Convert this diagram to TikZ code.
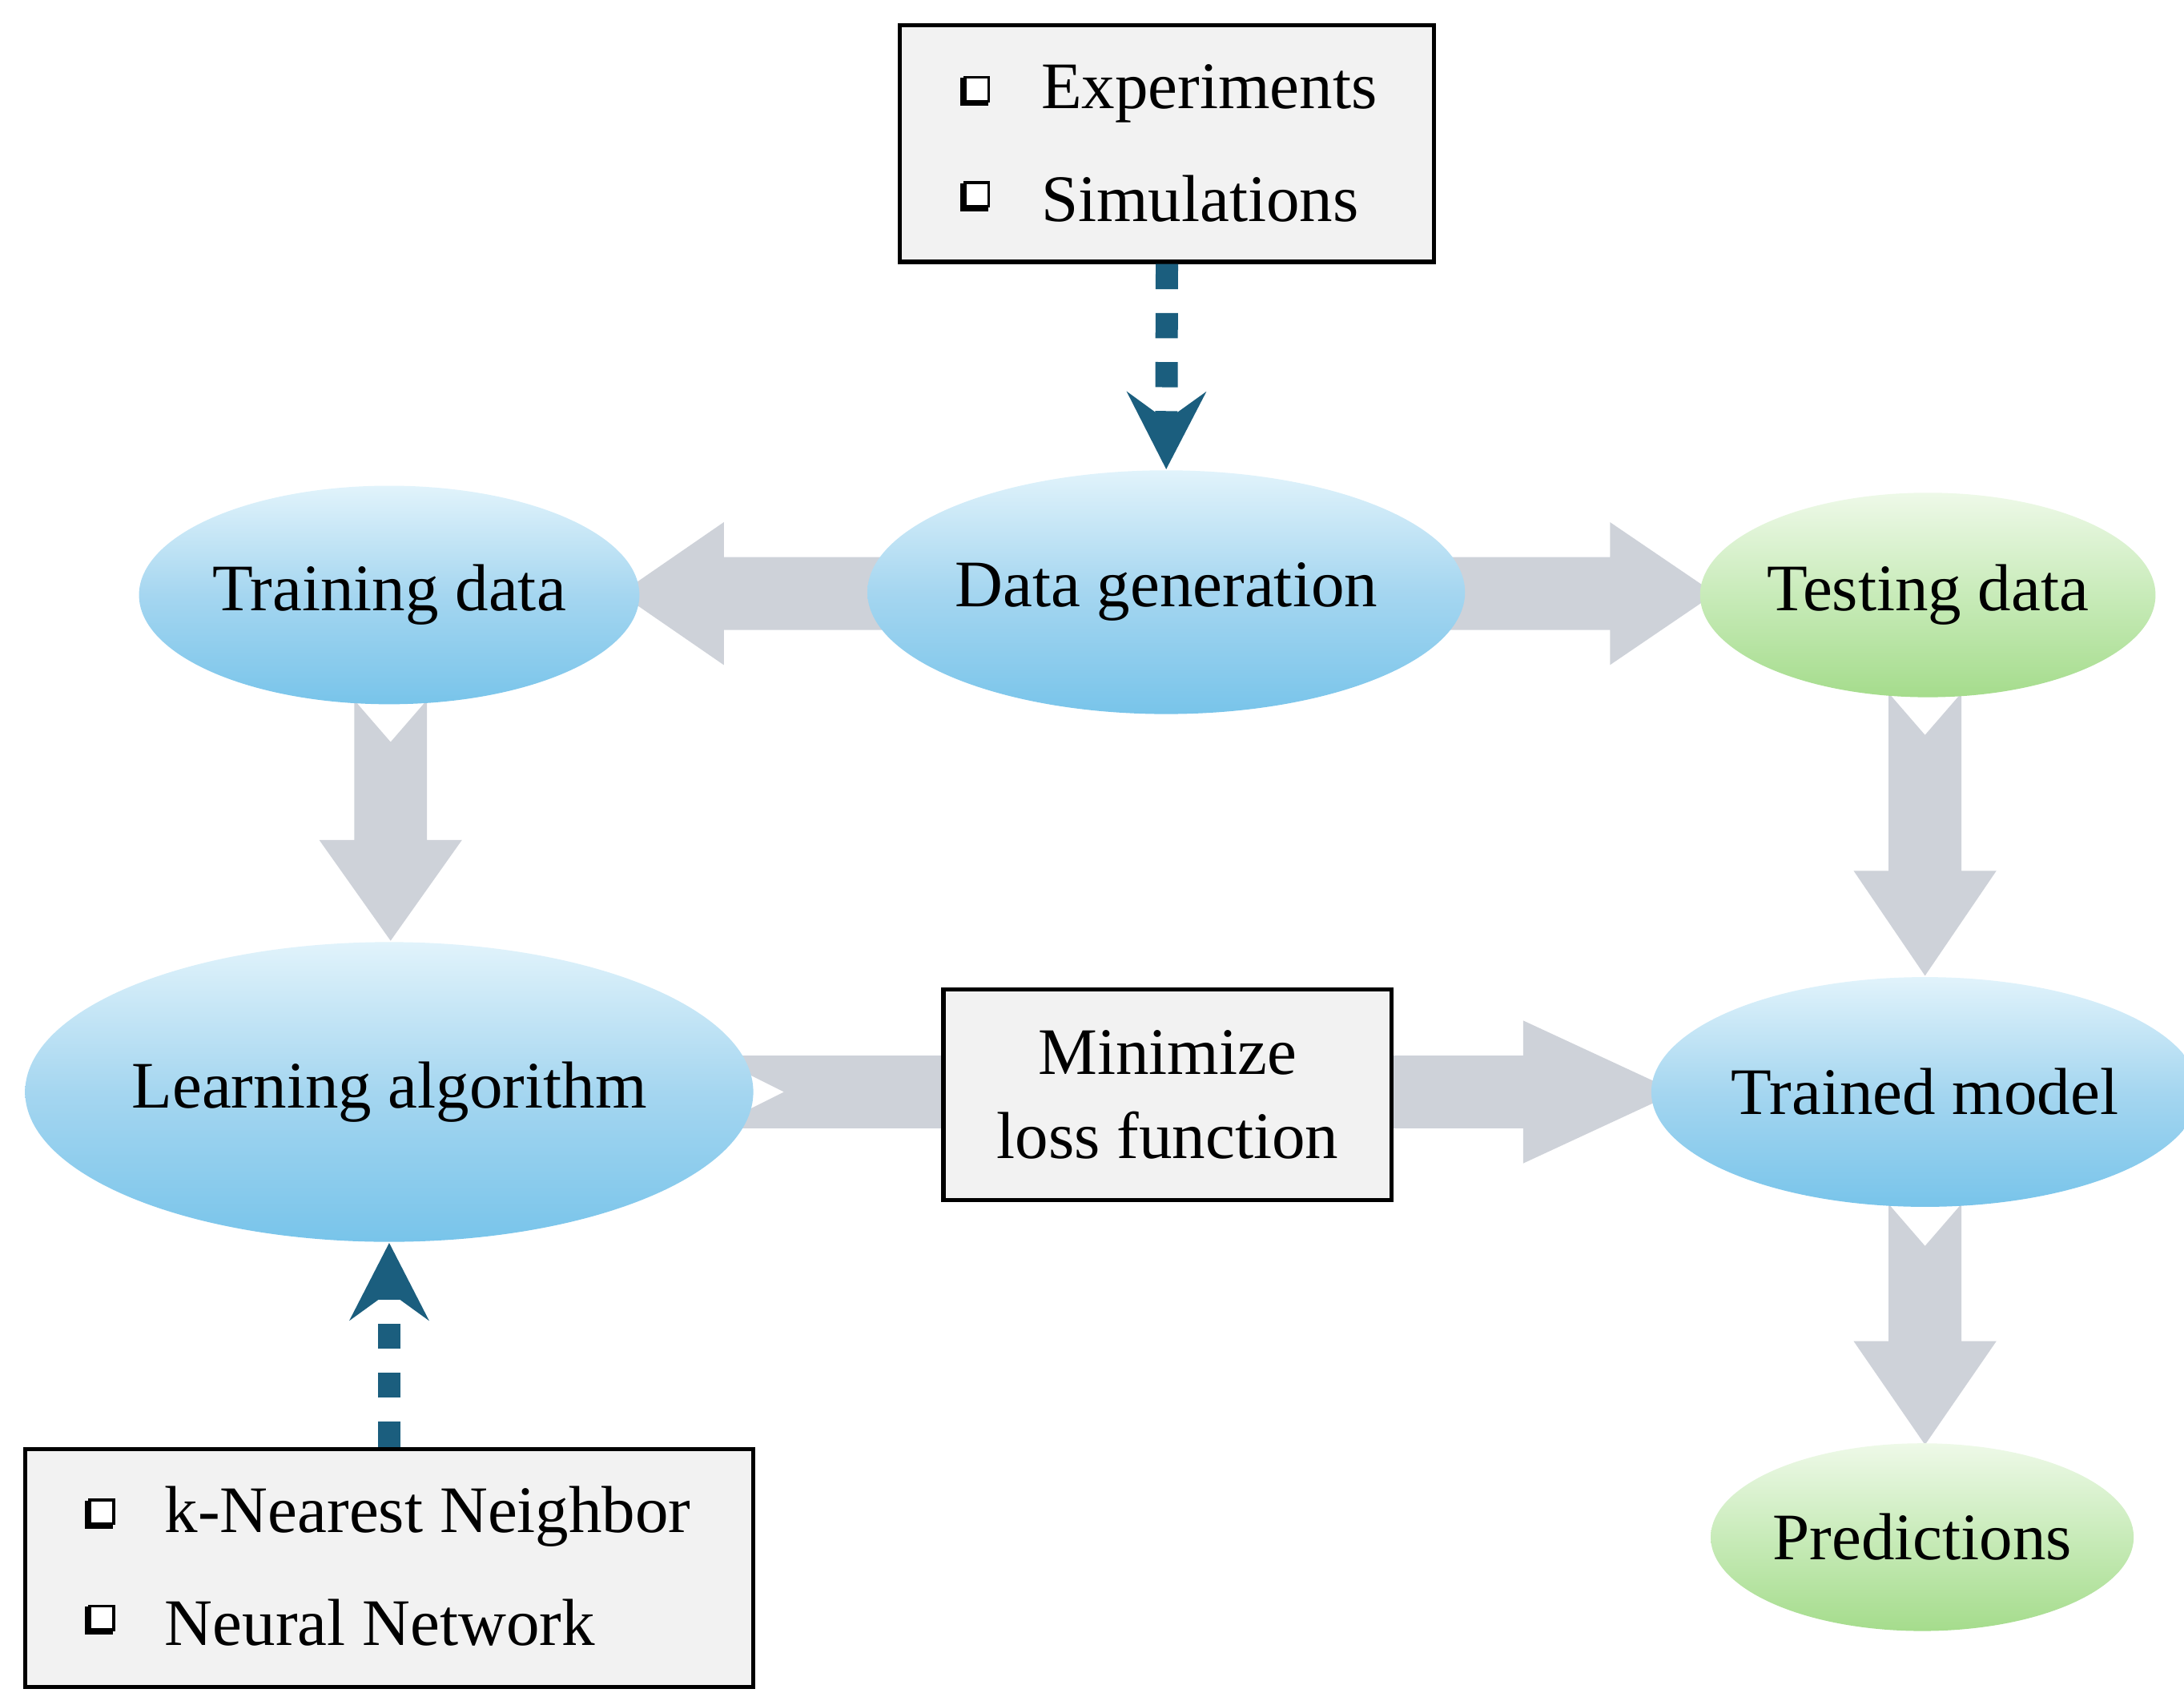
\documentclass[tikz,border=0pt]{standalone}
\usepackage{fontspec}
\setmainfont{Liberation Serif}
\usetikzlibrary{shapes.geometric,arrows.meta}
\definecolor{teal1}{RGB}{27,94,126}
\definecolor{fatg}{RGB}{206,210,217}
\definecolor{boxf}{RGB}{242,242,242}
\newcommand\cbx{\tikz[baseline=-0.02cm,x=1cm,y=1cm]{\fill (-0.035,-0.035) rectangle ++(0.2,0.2);\draw[fill=white,line width=0.6pt] (0,0) rectangle (0.17,0.17);}}
\tikzset{
 ell/.style={ellipse,inner sep=0pt,font=\fontsize{13.5}{16}\selectfont},
 bl/.style={ell,top color={rgb,255:red,225;green,243;blue,251},bottom color={rgb,255:red,120;green,196;blue,234},middle color={rgb,255:red,165;green,214;blue,240}},
 gr/.style={ell,top color={rgb,255:red,238;green,249;blue,232},bottom color={rgb,255:red,165;green,220;blue,140},middle color={rgb,255:red,200;green,235;blue,185}},
 bx/.style={draw,line width=0.03cm,fill=boxf},
 txt/.style={font=\fontsize{13.5}{17}\selectfont},
 dsh/.style={teal1,line width=0.16cm,dash pattern=on 0.18cm off 0.17cm,-{Stealth[length=0.55cm,width=0.56cm,inset=0.2cm]}},
}
\begin{document}
\begin{tikzpicture}[x=0.01cm,y=-0.01cm]
\useasboundingbox (0,0) rectangle (1560,1215);
% fat arrows
\fill[fatg] (655,398) -- (625,424) -- (655,450) -- (517,450) -- (517,475) -- (443,424) -- (517,373) -- (517,398) -- cycle;
\fill[fatg] (1012,398) -- (1042,424) -- (1012,450) -- (1150,450) -- (1150,475) -- (1225,424) -- (1150,373) -- (1150,398) -- cycle;
\fill[fatg] (253,500) -- (279,530) -- (305,500) -- (305,600) -- (330,600) -- (279,672) -- (228,600) -- (253,600) -- cycle;
\fill[fatg] (1349,495) -- (1375,525) -- (1401,495) -- (1401,622) -- (1426,622) -- (1375,697) -- (1324,622) -- (1349,622) -- cycle;
\fill[fatg] (1349,860) -- (1375,890) -- (1401,860) -- (1401,958) -- (1426,958) -- (1375,1032) -- (1324,958) -- (1349,958) -- cycle;
\fill[fatg] (508,754) -- (560,780) -- (508,806) -- (690,806) -- (690,754) -- cycle;
\fill[fatg] (990,754) -- (1088,754) -- (1088,729) -- (1198,780) -- (1088,831) -- (1088,806) -- (990,806) -- cycle;
% nodes
\node[bl,minimum width=3.76cm,minimum height=1.74cm] (dg) at (833,423) {Data generation};
\node[bl,minimum width=3.26cm,minimum height=1.56cm] (td) at (278,425) {Training data};
\node[gr,minimum width=3.06cm,minimum height=1.46cm] (te) at (1377,425) {Testing data};
\node[bl,minimum width=4.6cm,minimum height=2.14cm] (la) at (278,780) {Learning algorithm};
\node[bl,minimum width=3.54cm,minimum height=1.64cm] (tm) at (1375,780) {Trained model};
\node[gr,minimum width=2.9cm,minimum height=1.34cm] (pr) at (1373,1098) {Predictions};
\node[bx,minimum width=3.2cm,minimum height=1.5cm,txt,align=center] (mn) at (834,782) {Minimize\\loss function};
\node[bx,minimum width=3.81cm,minimum height=1.69cm] (src) at (833.5,102.5) {};
\node[bx,minimum width=5.2cm,minimum height=1.7cm] (alg) at (278,1120) {};
\node[anchor=west,inner sep=0] (c1) at (685,65) {\cbx};
\node[txt,anchor=west,inner sep=0] (e1) at (743,67) {Experiments};
\node[anchor=west,inner sep=0] (c2) at (685,140) {\cbx};
\node[txt,anchor=west,inner sep=0] (e2) at (743,142) {Simulations};
\node[anchor=west,inner sep=0] (c3) at (60,1081) {\cbx};
\node[txt,anchor=west,inner sep=0] (e3) at (117,1083) {k-Nearest Neighbor};
\node[anchor=west,inner sep=0] (c4) at (60,1157) {\cbx};
\node[txt,anchor=west,inner sep=0] (e4) at (117,1159) {Neural Network};
% dashed arrows
\draw[dsh] (src.south) -- (dg.north);
\draw[dsh] (alg.north) -- (la.south);
\end{tikzpicture}
\end{document}
